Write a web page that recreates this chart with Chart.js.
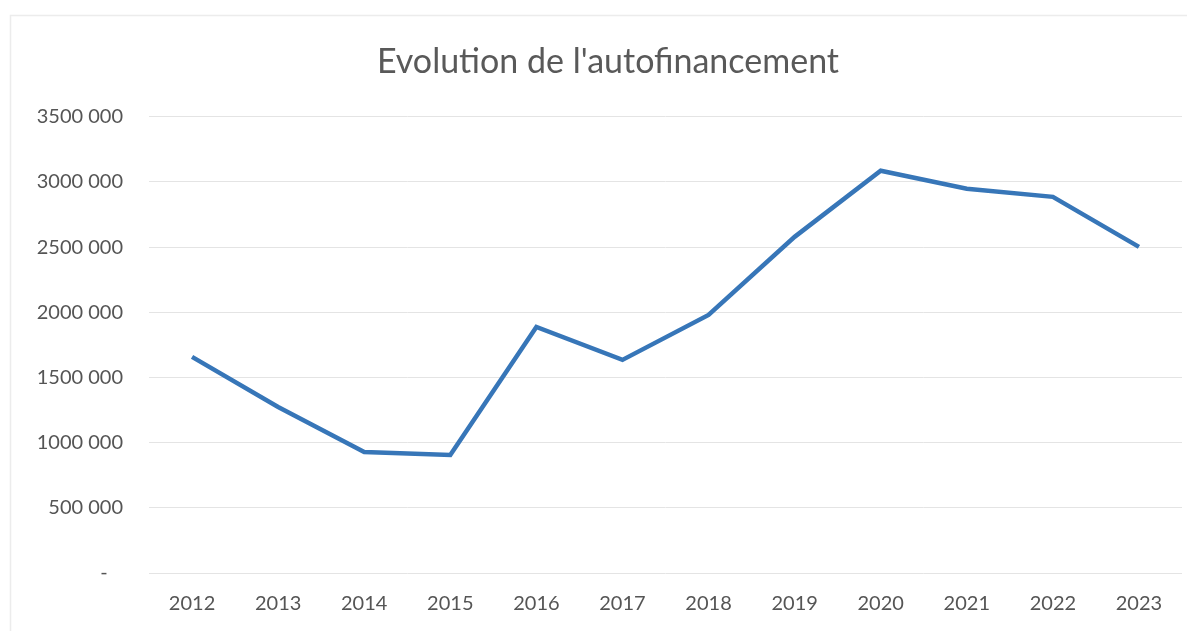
<!DOCTYPE html>
<html lang="fr">
<head>
    <meta charset="UTF-8">
    <title>Evolution de l'autofinancement</title>
    <script src="https://cdn.jsdelivr.net/npm/chart.js"></script>
    <style>
        body {
            margin: 0;
            padding: 0;
            background: #fff;
        }

        .wrap {
            width: 1187px;
            height: 631px;
        }
    </style>
</head>
<body>

    <div class="wrap">
        <canvas id="autofChart"></canvas>
    </div>

    <script>
        // Data
        const years = ['2012', '2013', '2014', '2015', '2016', '2017', '2018', '2019', '2020', '2021', '2022', '2023'];
        const autofinancement = [1658000, 1274000, 929000, 906000, 1888000, 1635000, 1980000, 2579000, 3086000, 2948000, 2886000, 2502000];
        const yTickValues = [0, 500000, 1000000, 1500000, 2000000, 2500000, 3000000, 3500000];
        const yTickLabels = ['-   ', '500 000', '1000 000', '1500 000', '2000 000', '2500 000', '3000 000', '3500 000'];

        // faint frame of the scanned chart box
        const framePlugin = {
            id: 'frame',
            beforeDraw(chart) {
                const c = chart.ctx;
                c.save();
                c.strokeStyle = '#ececec';
                c.lineWidth = 1.5;
                c.beginPath();
                c.moveTo(10.5, 631);
                c.lineTo(10.5, 15.5);
                c.lineTo(1187, 15.5);
                c.stroke();
                c.restore();
            }
        };

        const ctx = document.getElementById('autofChart').getContext('2d');

        new Chart(ctx, {
            type: 'line',
            data: {
                labels: years,
                datasets: [{
                    label: 'Autofinancement',
                    data: autofinancement,
                    borderColor: '#3776b8',
                    borderWidth: 4.5,
                    pointRadius: 0,
                    tension: 0,
                    fill: false
                }]
            },
            options: {
                responsive: true,
                maintainAspectRatio: false,
                animation: false,
                layout: {
                    padding: { left: 34, right: 5, top: 0, bottom: 0 }
                },
                plugins: {
                    legend: { display: false },
                    tooltip: { enabled: false },
                    title: {
                        display: true,
                        text: "Evolution de l'autofinancement",
                        color: '#595959',
                        font: { family: 'Lato', size: 34, weight: 'normal' },
                        padding: { top: 42, bottom: 34 }
                    }
                },
                scales: {
                    x: {
                        offset: true,
                        border: { display: false },
                        grid: { display: false, drawTicks: false },
                        ticks: {
                            color: '#555',
                            font: { family: 'Lato', size: 20 },
                            padding: 19,
                            maxRotation: 0
                        },
                        afterFit(axis) { axis.height = 58; }
                    },
                    y: {
                        min: 0,
                        max: 3500000,
                        border: { display: false },
                        grid: { color: '#e4e4e4', lineWidth: 1, drawTicks: false },
                        afterBuildTicks(axis) {
                            axis.ticks = yTickValues.map(v => ({ value: v }));
                        },
                        ticks: {
                            color: '#555',
                            font: { family: 'Lato', size: 20 },
                            padding: 26,
                            callback: (value) => yTickLabels[yTickValues.indexOf(value)]
                        },
                        afterFit(axis) { axis.width = 115; }
                    }
                }
            },
            plugins: [framePlugin]
        });
    </script>

</body>
</html>
